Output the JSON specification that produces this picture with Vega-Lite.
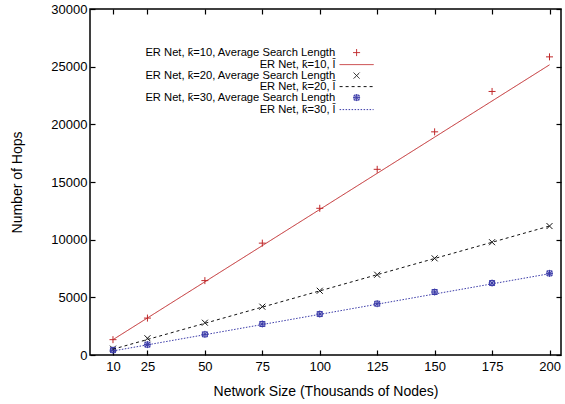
{
  "$schema": "https://vega.github.io/schema/vega-lite/v6.json",
  "width": 471,
  "height": 346,
  "autosize": "none",
  "padding": {"left": 90, "top": 9, "right": 4, "bottom": 49},
  "config": {
    "font": "Liberation Sans",
    "view": {"stroke": "black", "strokeWidth": 1.5},
    "axis": {
      "domain": false,
      "grid": false,
      "tickColor": "black",
      "tickSize": -5,
      "tickWidth": 1.2,
      "labelColor": "black",
      "labelFontSize": 13,
      "labelFont": "Liberation Sans",
      "titleFont": "Liberation Sans",
      "titleFontSize": 14,
      "titleFontWeight": "normal",
      "titleColor": "black"
    },
    "legend": {
      "symbolSize": 100,
      "orient": "none", "legendX": 261, "legendY": 38, "title": null,
      "labelAlign": "right", "labelOffset": -27, "symbolOffset": 0,
      "labelFontSize": 11.2, "labelFont": "Liberation Sans", "labelColor": "black",
      "rowPadding": -1, "labelLimit": 400, "symbolStrokeWidth": 1
    }
  },
  "datasets": {
    "pts": [
      {"x": 10, "y": 1330, "series": "ER Net, k̄=10, Average Search Length"},
      {"x": 25, "y": 3200, "series": "ER Net, k̄=10, Average Search Length"},
      {"x": 50, "y": 6450, "series": "ER Net, k̄=10, Average Search Length"},
      {"x": 75, "y": 9700, "series": "ER Net, k̄=10, Average Search Length"},
      {"x": 100, "y": 12720, "series": "ER Net, k̄=10, Average Search Length"},
      {"x": 125, "y": 16100, "series": "ER Net, k̄=10, Average Search Length"},
      {"x": 150, "y": 19350, "series": "ER Net, k̄=10, Average Search Length"},
      {"x": 175, "y": 22850, "series": "ER Net, k̄=10, Average Search Length"},
      {"x": 200, "y": 25850, "series": "ER Net, k̄=10, Average Search Length"},
      {"x": 10, "y": 550, "series": "ER Net, k̄=20, Average Search Length"},
      {"x": 25, "y": 1450, "series": "ER Net, k̄=20, Average Search Length"},
      {"x": 50, "y": 2800, "series": "ER Net, k̄=20, Average Search Length"},
      {"x": 75, "y": 4190, "series": "ER Net, k̄=20, Average Search Length"},
      {"x": 100, "y": 5570, "series": "ER Net, k̄=20, Average Search Length"},
      {"x": 125, "y": 6960, "series": "ER Net, k̄=20, Average Search Length"},
      {"x": 150, "y": 8380, "series": "ER Net, k̄=20, Average Search Length"},
      {"x": 175, "y": 9780, "series": "ER Net, k̄=20, Average Search Length"},
      {"x": 200, "y": 11180, "series": "ER Net, k̄=20, Average Search Length"},
      {"x": 10, "y": 420, "series": "ER Net, k̄=30, Average Search Length"},
      {"x": 25, "y": 900, "series": "ER Net, k̄=30, Average Search Length"},
      {"x": 50, "y": 1790, "series": "ER Net, k̄=30, Average Search Length"},
      {"x": 75, "y": 2690, "series": "ER Net, k̄=30, Average Search Length"},
      {"x": 100, "y": 3550, "series": "ER Net, k̄=30, Average Search Length"},
      {"x": 125, "y": 4450, "series": "ER Net, k̄=30, Average Search Length"},
      {"x": 150, "y": 5460, "series": "ER Net, k̄=30, Average Search Length"},
      {"x": 175, "y": 6240, "series": "ER Net, k̄=30, Average Search Length"},
      {"x": 200, "y": 7080, "series": "ER Net, k̄=30, Average Search Length"}
    ],
    "lines": [
      {"x": 10, "y": 1330, "series": "ER Net, k̄=10, l̄"},
      {"x": 200, "y": 25160, "series": "ER Net, k̄=10, l̄"},
      {"x": 10, "y": 500, "series": "ER Net, k̄=20, l̄"},
      {"x": 200, "y": 11180, "series": "ER Net, k̄=20, l̄"},
      {"x": 10, "y": 350, "series": "ER Net, k̄=30, l̄"},
      {"x": 200, "y": 7050, "series": "ER Net, k̄=30, l̄"}
    ]
  },
  "layer": [
    {
      "data": {"name": "pts"},
      "mark": {"type": "point", "filled": false, "size": 100, "strokeWidth": 1, "opacity": 1},
      "encoding": {
        "x": {
          "field": "x", "type": "quantitative",
          "scale": {"domain": [0, 205], "nice": false, "zero": false},
          "axis": {"orient": "bottom", "values": [10, 25, 50, 75, 100, 125, 150, 175, 200], "title": "Network Size (Thousands of Nodes)", "labelPadding": 10, "titlePadding": 11}
        },
        "y": {
          "field": "y", "type": "quantitative",
          "scale": {"domain": [0, 30000], "nice": false},
          "axis": {"orient": "left", "values": [0, 5000, 10000, 15000, 20000, 25000, 30000], "title": "Number of Hops", "labelPadding": 8, "titlePadding": 26, "format": "d"}
        },
        "color": {
          "field": "series", "type": "nominal",
          "scale": {
            "domain": ["ER Net, k̄=10, Average Search Length", "ER Net, k̄=10, l̄", "ER Net, k̄=20, Average Search Length", "ER Net, k̄=20, l̄", "ER Net, k̄=30, Average Search Length", "ER Net, k̄=30, l̄"],
            "range": ["#c0282a", "#c0282a", "#111111", "#111111", "#3a3aa8", "#3a3aa8"]
          }
        },
        "shape": {
          "field": "series", "type": "nominal",
          "scale": {
            "domain": ["ER Net, k̄=10, Average Search Length", "ER Net, k̄=10, l̄", "ER Net, k̄=20, Average Search Length", "ER Net, k̄=20, l̄", "ER Net, k̄=30, Average Search Length", "ER Net, k̄=30, l̄"],
            "range": ["M-0.7,0L0.7,0M0,-0.7L0,0.7", "M-3.4,0L3.4,0", "M-0.6,-0.6L0.6,0.6M0.6,-0.6L-0.6,0.6", "M-3.4,0L3.4,0", "M-0.7,0L0.7,0M0,-0.7L0,0.7M-0.5,-0.5L0.5,0.5M0.5,-0.5L-0.5,0.5M-0.5,-0.5L0.5,-0.5L0.5,0.5L-0.5,0.5Z", "M-3.4,0L3.4,0"]
          }
        }
      }
    },
    {
      "data": {"name": "lines"},
      "mark": {"type": "line", "strokeWidth": 1},
      "encoding": {
        "x": {
          "field": "x", "type": "quantitative",
          "axis": {"orient": "top", "values": [10, 25, 50, 75, 100, 125, 150, 175, 200], "labels": false, "title": null}
        },
        "y": {
          "field": "y", "type": "quantitative",
          "axis": {"orient": "right", "values": [0, 5000, 10000, 15000, 20000, 25000, 30000], "labels": false, "title": null}
        },
        "color": {"field": "series", "type": "nominal"},
        "strokeDash": {
          "field": "series", "type": "nominal",
          "scale": {
            "domain": ["ER Net, k̄=10, Average Search Length", "ER Net, k̄=10, l̄", "ER Net, k̄=20, Average Search Length", "ER Net, k̄=20, l̄", "ER Net, k̄=30, Average Search Length", "ER Net, k̄=30, l̄"],
            "range": [[1, 0], [1, 0], [1, 0], [3, 3], [1, 0], [1.5, 1.5]]
          }
        }
      }
    }
  ],
  "resolve": {"axis": {"x": "independent", "y": "independent"}}
}
